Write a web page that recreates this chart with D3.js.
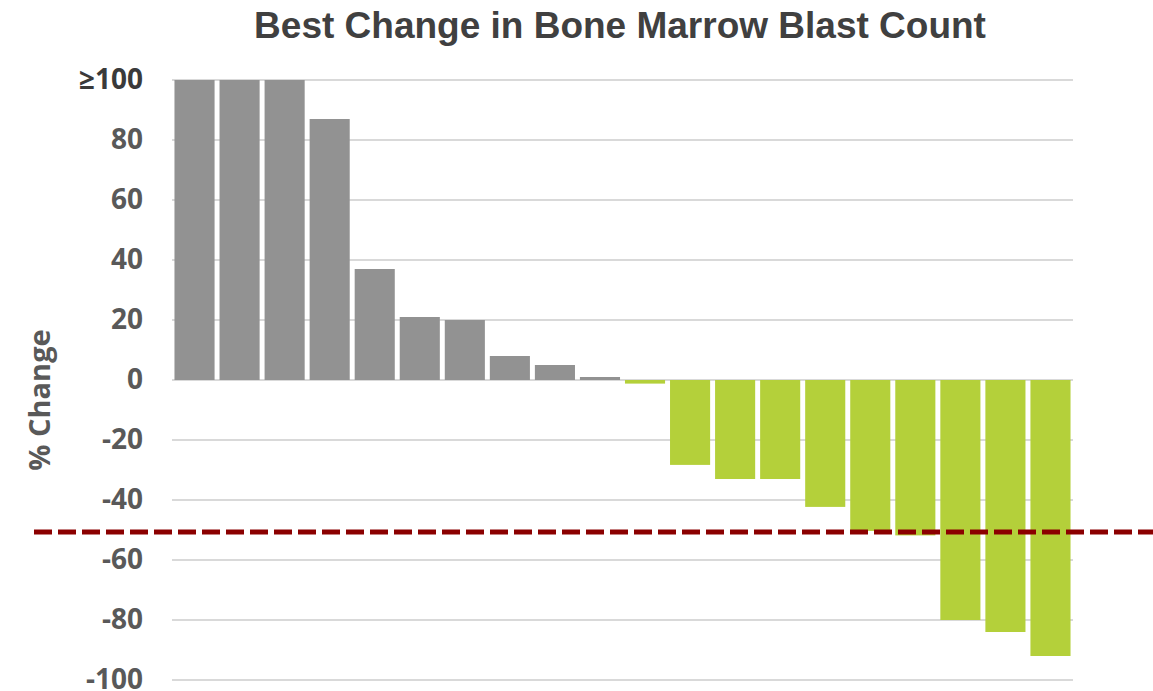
<!DOCTYPE html>
<html>
<head>
<meta charset="utf-8">
<script src="https://cdn.jsdelivr.net/npm/d3@7"></script>
<style>
  body { margin: 0; background: #fff; }
  svg text { font-family: "Open Sans", "Liberation Sans", sans-serif; font-weight: bold; }
</style>
</head>
<body>
<div id="chart"></div>
<script>
// best change per patient, capped at 100
const patients = d3.range(1, 21).map(d => 'P' + d);
const changes = [100, 100, 100, 87, 37, 21, 20, 8, 5, 1, -1.2, -28.3, -33, -33, -42.3, -50.3, -51.8, -80, -84, -92];
const yTicks = [100, 80, 60, 40, 20, 0, -20, -40, -60, -80, -100];
const yTickLabels = ['≥100', '80', '60', '40', '20', '0', '-20', '-40', '-60', '-80', '-100'];
const threshold = -50;

const width = 1153, height = 691;

const svg = d3.select('#chart').append('svg')
  .attr('width', width)
  .attr('height', height);

const x = d3.scaleBand()
  .domain(patients)
  .range([172, 1073])
  .paddingInner(0.11)
  .paddingOuter(0.055);

const y = d3.scaleLinear()
  .domain([-100, 100])
  .range([680, 80]);

// gridlines
svg.append('g')
  .selectAll('line')
  .data(yTicks)
  .join('line')
  .attr('x1', 172)
  .attr('x2', 1073)
  .attr('y1', d => y(d))
  .attr('y2', d => y(d))
  .attr('stroke', '#d9d9d9')
  .attr('stroke-width', 2);

// tick labels
svg.append('g')
  .selectAll('text')
  .data(yTicks)
  .join('text')
  .attr('x', 143)
  .attr('y', d => y(d))
  .attr('dy', '0.33em')
  .attr('text-anchor', 'end')
  .attr('font-size', 28)
  .attr('fill', (d, i) => i === 0 ? '#3a3a3a' : '#595959')
  .text((d, i) => yTickLabels[i]);

// bars
svg.append('g')
  .selectAll('rect')
  .data(changes)
  .join('rect')
  .attr('x', (d, i) => x(patients[i]))
  .attr('width', x.bandwidth())
  .attr('y', d => y(Math.max(0, d)))
  .attr('height', d => Math.abs(y(d) - y(0)))
  .attr('fill', d => d >= 0 ? '#929292' : '#b4d03a');

// -50% threshold line
svg.append('line')
  .attr('x1', 34)
  .attr('x2', width)
  .attr('y1', y(threshold) + 2)
  .attr('y2', y(threshold) + 2)
  .attr('stroke', '#8b0000')
  .attr('stroke-width', 5)
  .attr('stroke-dasharray', '18,6');

// title
svg.append('text')
  .attr('x', 620)
  .attr('y', 38)
  .attr('text-anchor', 'middle')
  .attr('font-size', 37)
  .attr('fill', '#404040')
  .style('font-family', '"Liberation Sans", Arial, sans-serif')
  .text('Best Change in Bone Marrow Blast Count');

// y axis title
svg.append('text')
  .attr('transform', 'translate(50,400) rotate(-90)')
  .attr('text-anchor', 'middle')
  .attr('font-size', 29)
  .attr('fill', '#595959')
  .text('% Change');
</script>
</body>
</html>
